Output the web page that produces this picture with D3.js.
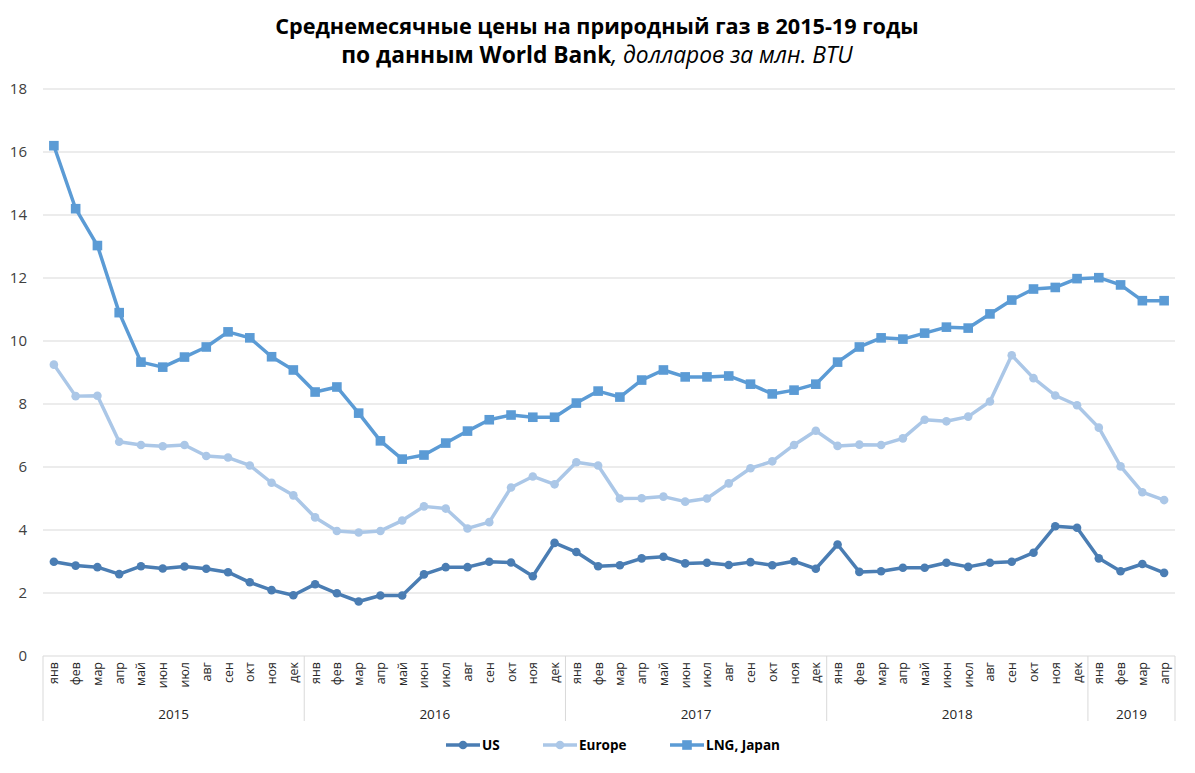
<!DOCTYPE html>
<html><head><meta charset="utf-8">
<script src="https://cdn.jsdelivr.net/npm/d3@7/dist/d3.min.js"></script>
<style>body{margin:0;background:#fff}svg{display:block;font-family:"Open Sans","Noto Sans",sans-serif}</style>
</head><body><svg id="c" width="1195" height="773"></svg>
<script>
const months = ["янв","фев","мар","апр","май","июн","июл","авг","сен","окт","ноя","дек"];
const years = ["2015","2016","2017","2018","2019"];
const monthsPerYear = [12,12,12,12,4];
const yTicks = [0,2,4,6,8,10,12,14,16,18];
const seriesNames = ["US","Europe","LNG, Japan"];
const us = [2.99,2.87,2.82,2.60,2.85,2.78,2.84,2.77,2.66,2.34,2.09,1.93,
  2.28,1.99,1.73,1.92,1.92,2.59,2.82,2.82,2.99,2.97,2.53,3.59,
  3.30,2.85,2.88,3.10,3.15,2.94,2.96,2.89,2.98,2.88,3.01,2.77,
  3.54,2.67,2.69,2.80,2.80,2.96,2.83,2.96,2.99,3.28,4.12,4.07,
  3.10,2.69,2.92,2.64];
const europe = [9.25,8.25,8.26,6.80,6.70,6.66,6.70,6.35,6.30,6.05,5.50,5.10,
  4.40,3.97,3.92,3.97,4.30,4.75,4.68,4.05,4.25,5.35,5.70,5.45,
  6.15,6.05,5.00,5.01,5.06,4.90,5.00,5.48,5.96,6.18,6.70,7.15,
  6.67,6.71,6.70,6.91,7.50,7.45,7.60,8.08,9.55,8.82,8.27,7.96,
  7.25,6.02,5.20,4.95];
const lng = [16.20,14.20,13.03,10.90,9.33,9.17,9.49,9.81,10.29,10.10,9.50,9.08,
  8.38,8.54,7.71,6.83,6.25,6.38,6.76,7.14,7.50,7.65,7.58,7.58,
  8.03,8.41,8.22,8.76,9.08,8.86,8.86,8.89,8.63,8.32,8.44,8.63,
  9.33,9.81,10.10,10.06,10.25,10.44,10.41,10.86,11.30,11.65,11.70,11.98,
  12.01,11.78,11.28,11.28];

const colors = ["#4a7db3","#abc7e7","#5b9bd5"];
const svg = d3.select("#c");
const L = 43, R = 1175, T = 89, B = 656;

const cats = [];
years.forEach((y,i)=>{ for(let m=0;m<monthsPerYear[i];m++) cats.push({y, m: months[m], yi:i}); });
const x = d3.scaleBand().domain(d3.range(cats.length)).range([L,R]).paddingInner(0).paddingOuter(0);
const cx = i => x(i) + x.bandwidth()/2;
const y = d3.scaleLinear().domain([0,18]).range([B,T]);

svg.append("g").selectAll("line").data(yTicks).join("line")
  .attr("x1",L).attr("x2",R).attr("y1",d=>y(d)).attr("y2",d=>y(d))
  .attr("stroke","#d9d9d9").attr("stroke-width",1);
svg.append("g").selectAll("text").data(yTicks).join("text")
  .attr("x",27).attr("y",d=>y(d)+5).attr("text-anchor","end")
  .attr("font-size",15).attr("fill","#404040").text(d=>d);

let bounds = [0]; let acc=0; monthsPerYear.forEach(n=>{acc+=n; bounds.push(acc);});
const bx = b => b===cats.length ? R : x(b);
svg.append("g").selectAll("line").data(bounds).join("line")
  .attr("x1",d=>bx(d)).attr("x2",d=>bx(d)).attr("y1",B).attr("y2",721)
  .attr("stroke","#d9d9d9").attr("stroke-width",1);
svg.append("g").selectAll("text").data(cats).join("text")
  .attr("transform",(d,i)=>`translate(${cx(i)+4.5},662) rotate(-90)`)
  .attr("text-anchor","end").attr("font-size",12.5).attr("fill","#262626").text(d=>d.m);
svg.append("g").selectAll("text").data(years).join("text")
  .attr("x",(d,i)=>(bx(bounds[i])+bx(bounds[i+1]))/2).attr("y",719)
  .attr("text-anchor","middle").attr("font-size",13.5).attr("fill","#262626").text(d=>d);

const data = [us,europe,lng];
const line = d3.line().x((d,i)=>cx(i)).y(d=>y(d));
data.forEach((s,k)=>{
  const g = svg.append("g");
  g.append("path").datum(s).attr("d",line).attr("fill","none")
    .attr("stroke",colors[k]).attr("stroke-width",3.5).attr("stroke-linejoin","round");
  if(k<2){
    g.selectAll("circle").data(s).join("circle").attr("cx",(d,i)=>cx(i)).attr("cy",d=>y(d))
      .attr("r",4.3).attr("fill",colors[k]);
  } else {
    g.selectAll("rect").data(s).join("rect").attr("x",(d,i)=>cx(i)-4.8).attr("y",d=>y(d)-4.8)
      .attr("width",9.6).attr("height",9.6).attr("fill",colors[k]);
  }
});

const legX = [446,543,670];
seriesNames.forEach((n,k)=>{
  const g = svg.append("g").attr("transform",`translate(${legX[k]},745)`);
  g.append("line").attr("x1",0).attr("x2",34).attr("stroke",colors[k]).attr("stroke-width",3.5);
  if(k<2) g.append("circle").attr("cx",17).attr("r",4.3).attr("fill",colors[k]);
  else g.append("rect").attr("x",12.2).attr("y",-4.8).attr("width",9.6).attr("height",9.6).attr("fill",colors[k]);
  g.append("text").attr("x",36).attr("y",5).attr("font-size",13.5).attr("font-weight","bold").attr("fill","#000").text(n);
});

const t1 = svg.append("text").attr("x",597).attr("y",34).attr("text-anchor","middle")
  .attr("font-size",20).attr("font-weight","bold").attr("fill","#000")
  .text("Среднемесячные цены на природный газ в 2015-19 годы");
const t2 = svg.append("text").attr("x",597).attr("y",63).attr("text-anchor","middle")
  .attr("font-size",20).attr("fill","#000");
t2.append("tspan").attr("font-weight","bold").text("по данным World Bank");
t2.append("tspan").attr("font-style","italic").text(", долларов за млн. BTU");
const w1 = t1.node().getComputedTextLength();
t1.attr("font-size", 20*644/w1);
const w2 = t2.node().getComputedTextLength();
t2.attr("font-size", 20*512/w2);
</script></body></html>
